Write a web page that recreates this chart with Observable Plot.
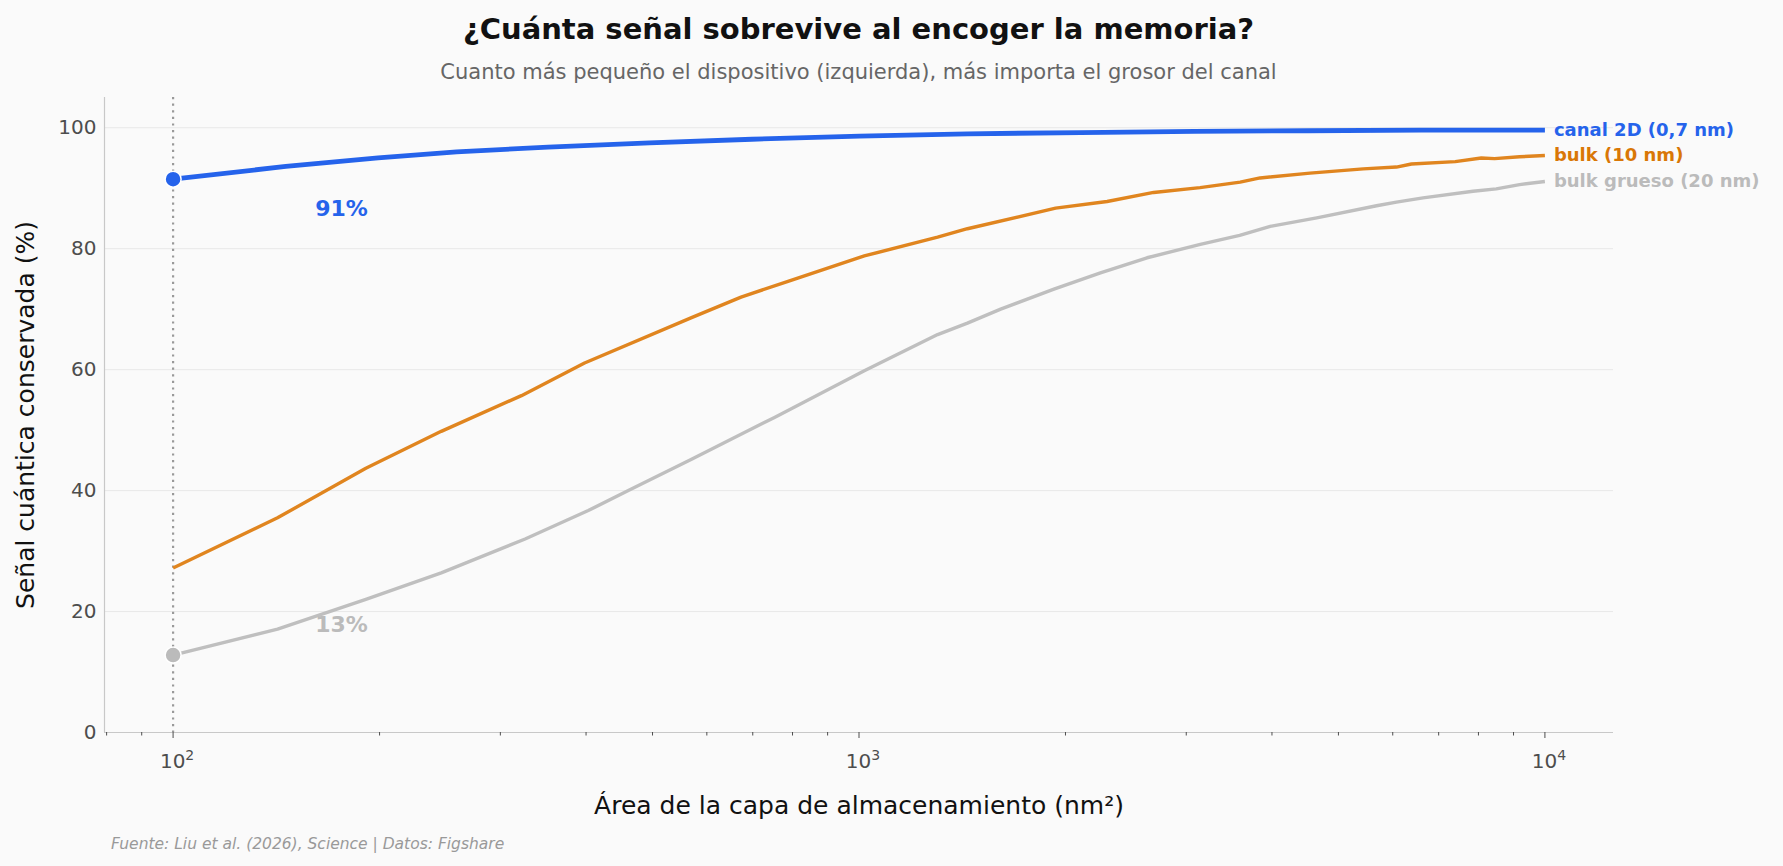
<!DOCTYPE html>
<html><head><meta charset="utf-8">
<script src="https://cdn.jsdelivr.net/npm/d3@7"></script>
<script src="https://cdn.jsdelivr.net/npm/@observablehq/plot@0.6"></script>
<style>
html,body{margin:0;padding:0;background:#fafafa;}
body{width:1783px;height:866px;overflow:hidden;font-family:"DejaVu Sans",sans-serif;}
#title{width:1717px;text-align:center;font-weight:bold;font-size:29px;line-height:34px;padding-top:12px;color:#111;}
#subtitle{width:1717px;text-align:center;font-size:21px;line-height:26px;margin-top:13px;color:#666;}
#chart svg{display:block}
#caption{margin-top:9px;padding-left:111px;font-size:15.5px;line-height:20px;font-style:italic;color:#999;}
</style></head>
<body>
<div id="title"></div><div id="subtitle"></div><div id="chart"></div><div id="caption"></div>
<script>
const titleText = "¿Cuánta señal sobrevive al encoger la memoria?";
const subtitleText = "Cuanto más pequeño el dispositivo (izquierda), más importa el grosor del canal";
const captionText = "Fuente: Liu et al. (2026), Science | Datos: Figshare";
const xLabel = "Área de la capa de almacenamiento (nm²)";
const yLabel = "Señal cuántica conservada (%)";

const seriesNames = ["canal 2D (0,7 nm)", "bulk (10 nm)", "bulk grueso (20 nm)"];
const seriesColors = ["#2563eb", "#d97706", "#bbbbbb"];
const lineColors = ["#2563eb", "#e0851f", "#bfbfbf"];

const area2D = [100,146,199,259,352,495,698,1002,1439,2105,2660,3082,4508,6603,10000];
const signal2D = [91.5,93.6,95.0,96.0,96.8,97.5,98.1,98.6,99.0,99.2,99.3,99.4,99.5,99.6,99.6];

const areaBulk10 = [100,142,191,246,322,398,570,673,788,1018,1302,1439,1935,2300,2689,3142,3595,3844,4545,5434,6075,6389,7401,8077,8446,9185,10000];
const signalBulk10 = [27.2,35.5,43.7,49.8,55.7,61.1,68.6,72.0,74.6,78.8,81.9,83.3,86.7,87.8,89.3,90.1,91.0,91.7,92.5,93.2,93.5,94.0,94.4,95.0,94.9,95.2,95.4];

const areaBulk20 = [100,142,191,246,326,403,461,570,753,1018,1302,1439,1609,1924,2249,2630,3145,3589,3977,4649,5683,6075,6642,7855,8493,9185,10000];
const signalBulk20 = [12.8,17.1,22.0,26.4,32.0,36.7,40.0,45.2,52.1,59.8,65.8,67.7,70.0,73.3,76.0,78.5,80.7,82.2,83.7,85.1,87.1,87.7,88.4,89.5,89.9,90.6,91.1];

const yTicks = [0,20,40,60,80,100];
const xMajorTicks = [100,1000,10000];
const xTickBase = ["10","10","10"];
const xTickExp = ["2","3","4"];
const markerArea = 100;
const annotText = ["91%","13%"];
const annotArea = [176,176];
const annotSignal = [86.5,17.8];

const xDomain = [Math.pow(10,1.9), Math.pow(10,4.1)];
const xMinorTicks = [];
for (const base of [10,100,1000]) for (let m = 2; m <= 9; m++) { const v = base*m; if (v >= xDomain[0] && v <= xDomain[1]) xMinorTicks.push(v); }

const areas = [area2D, areaBulk10, areaBulk20];
const signals = [signal2D, signalBulk10, signalBulk20];
const rows = [];
areas.forEach((arr, s) => arr.forEach((a, i) => rows.push({series: seriesNames[s], idx: s, area: a, signal: signals[s][i]})));
const endPts = seriesNames.map((n, s) => ({series: n, idx: s, area: areas[s][areas[s].length-1], signal: signals[s][signals[s].length-1]}));
const startPts = [0,2].map(s => ({idx: s, area: areas[s][0], signal: signals[s][0]}));
const annots = annotText.map((t,i) => ({text: t, area: annotArea[i], signal: annotSignal[i], color: seriesColors[i===0?0:2]}));
const tickKey = new Map(xMajorTicks.map((d,i) => [d, "§" + i]));
const lineWidths = [4.8, 3.4, 3.4];

document.getElementById("title").textContent = titleText;
document.getElementById("subtitle").textContent = subtitleText;
document.getElementById("caption").textContent = captionText;

const lineMarks = [2,1,0].map(s => Plot.line(rows.filter(r => r.idx === s), {x: "area", y: "signal", stroke: lineColors[s], strokeWidth: lineWidths[s], strokeLinejoin: "round", strokeLinecap: "butt"}));

const plot = Plot.plot({
  width: 1783, height: 740,
  marginTop: 12, marginBottom: 93, marginLeft: 104, marginRight: 170,
  style: {background: "#fafafa", fontFamily: "'DejaVu Sans', sans-serif", overflow: "visible"},
  x: {type: "log", domain: xDomain},
  y: {domain: [0,105]},
  marks: [
    Plot.gridY(yTicks.filter(d => d > 0), {stroke: "#e8e8e8", strokeOpacity: 1, strokeWidth: 1}),
    Plot.ruleX([xDomain[0]], {stroke: "#c8c8c8", strokeWidth: 1.2}),
    Plot.ruleY([0], {stroke: "#c8c8c8", strokeWidth: 1.2}),
    Plot.axisY(yTicks, {tickSize: 0, tickPadding: 8, fontSize: 20, color: "#4d4d4d", label: null}),
    Plot.axisX(xMajorTicks, {tickSize: 6, tickPadding: 15, fontSize: 20, color: "#4d4d4d", label: null, tickFormat: d => tickKey.get(d)}),
    Plot.axisX(xMinorTicks, {tickSize: 3.5, fontSize: 1, color: "#4d4d4d", label: null, tickFormat: () => ""}),
    Plot.ruleX([markerArea], {stroke: "#999999", strokeWidth: 2.2, strokeDasharray: "2.2,4.4"}),
    ...lineMarks,
    Plot.dot(startPts, {x: "area", y: "signal", r: 8, fill: d => seriesColors[d.idx], stroke: "white", strokeWidth: 1.5}),
    Plot.text(endPts, {x: "area", y: "signal", text: "series", fill: d => seriesColors[d.idx], dx: 9, textAnchor: "start", fontSize: 18, fontWeight: "bold"}),
    Plot.text(annots, {x: "area", y: "signal", text: "text", fill: "color", fontSize: 22, fontWeight: "bold"}),
    Plot.text([yLabel], {frameAnchor: "left", rotate: -90, dx: -79, textAnchor: "middle", lineAnchor: "middle", fontSize: 25, fill: "#111"}),
    Plot.text([xLabel], {frameAnchor: "bottom", dy: 73, textAnchor: "middle", lineAnchor: "middle", fontSize: 25, fill: "#111"})
  ]
});
// turn tick keys into "10" + raised exponent
const NS = "http://www.w3.org/2000/svg";
plot.querySelectorAll("text").forEach(t => {
  const m = /^§(\d)$/.exec(t.textContent);
  if (!m) return;
  const i = +m[1];
  t.textContent = "";
  const b = document.createElementNS(NS, "tspan"); b.textContent = xTickBase[i];
  const e = document.createElementNS(NS, "tspan"); e.textContent = xTickExp[i];
  e.setAttribute("font-size", "14"); e.setAttribute("dy", "-8");
  t.appendChild(b); t.appendChild(e);
  t.setAttribute("dx", "4");
});
document.getElementById("chart").appendChild(plot);
</script>
</body></html>
